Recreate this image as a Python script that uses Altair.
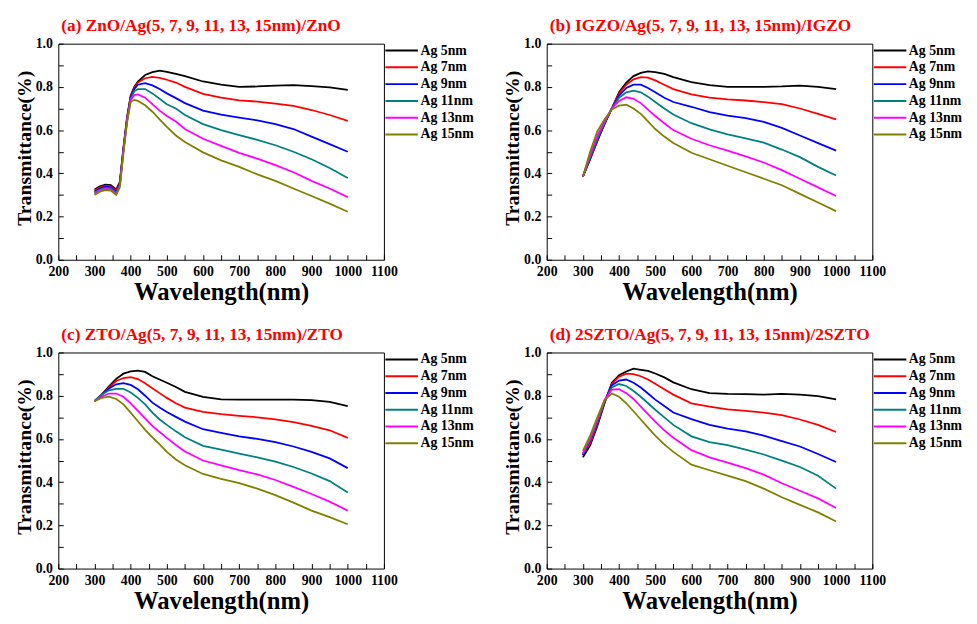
import altair as alt
import pandas as pd

FONT = "Liberation Serif"

SERIES = ["Ag 5nm", "Ag 7nm", "Ag 9nm", "Ag 11nm", "Ag 13nm", "Ag 15nm"]
COLORS = ["#000000", "#FF0000", "#0000FF", "#008080", "#FF00FF", "#808000"]

TITLES = [
    "(a) ZnO/Ag(5, 7, 9, 11, 13, 15nm)/ZnO",
    "(b) IGZO/Ag(5, 7, 9, 11, 13, 15nm)/IGZO",
    "(c) ZTO/Ag(5, 7, 9, 11, 13, 15nm)/ZTO",
    "(d) 2SZTO/Ag(5, 7, 9, 11, 13, 15nm)/2SZTO",
]

X_LABELS = [200, 300, 400, 500, 600, 700, 800, 900, 1000, 1100]
X_TICKS = [200, 250, 300, 350, 400, 450, 500, 550, 600, 650, 700, 750, 800, 850, 900, 950, 1000, 1050, 1100]
Y_LABELS = [0.0, 0.2, 0.4, 0.6, 0.8, 1.0]
Y_TICKS = [0.0, 0.1, 0.2, 0.3, 0.4, 0.5, 0.6, 0.7, 0.8, 0.9, 1.0]

# ---- (a) ZnO ----
WL_A = [300, 315, 330, 345, 360, 370, 380, 390, 400, 410, 420, 440, 460, 480, 500, 525, 550, 600, 650, 700, 750, 800, 850, 900, 950, 1000]
ZNO_5 = [0.325, 0.340, 0.348, 0.345, 0.325, 0.360, 0.520, 0.660, 0.760, 0.800, 0.825, 0.855, 0.868, 0.875, 0.870, 0.860, 0.850, 0.825, 0.810, 0.800, 0.802, 0.806, 0.808, 0.804, 0.798, 0.786]
ZNO_7 = [0.320, 0.335, 0.343, 0.340, 0.320, 0.355, 0.515, 0.655, 0.755, 0.795, 0.820, 0.840, 0.846, 0.842, 0.833, 0.820, 0.800, 0.768, 0.750, 0.738, 0.732, 0.723, 0.712, 0.693, 0.670, 0.643]
ZNO_9 = [0.315, 0.330, 0.338, 0.335, 0.315, 0.350, 0.510, 0.650, 0.750, 0.790, 0.810, 0.817, 0.807, 0.790, 0.770, 0.748, 0.725, 0.690, 0.672, 0.658, 0.645, 0.628, 0.605, 0.570, 0.535, 0.500]
ZNO_11 = [0.310, 0.325, 0.333, 0.330, 0.310, 0.345, 0.505, 0.645, 0.745, 0.780, 0.790, 0.790, 0.770, 0.745, 0.720, 0.700, 0.670, 0.628, 0.600, 0.577, 0.555, 0.530, 0.500, 0.465, 0.425, 0.378]
ZNO_13 = [0.305, 0.320, 0.328, 0.325, 0.305, 0.340, 0.500, 0.640, 0.740, 0.762, 0.765, 0.750, 0.720, 0.690, 0.665, 0.640, 0.605, 0.560, 0.527, 0.495, 0.468, 0.438, 0.405, 0.365, 0.330, 0.290]
ZNO_15 = [0.300, 0.315, 0.322, 0.320, 0.300, 0.335, 0.495, 0.635, 0.730, 0.740, 0.735, 0.715, 0.685, 0.650, 0.615, 0.575, 0.545, 0.497, 0.460, 0.430, 0.395, 0.365, 0.330, 0.295, 0.260, 0.222]

# ---- (b), (c), (d) share the wavelength grid ----
WL = [300, 320, 340, 360, 380, 400, 420, 440, 460, 480, 500, 525, 550, 600, 650, 700, 750, 800, 850, 900, 950, 1000]

IGZO_5 = [0.385, 0.465, 0.550, 0.630, 0.700, 0.775, 0.820, 0.850, 0.865, 0.872, 0.868, 0.860, 0.845, 0.822, 0.808, 0.800, 0.800, 0.800, 0.802, 0.806, 0.800, 0.790]
IGZO_7 = [0.385, 0.465, 0.550, 0.630, 0.700, 0.770, 0.810, 0.835, 0.845, 0.843, 0.830, 0.810, 0.790, 0.765, 0.750, 0.742, 0.737, 0.730, 0.720, 0.700, 0.675, 0.650]
IGZO_9 = [0.385, 0.470, 0.555, 0.630, 0.700, 0.760, 0.795, 0.810, 0.810, 0.795, 0.775, 0.750, 0.730, 0.708, 0.683, 0.667, 0.655, 0.638, 0.610, 0.575, 0.540, 0.505]
IGZO_11 = [0.385, 0.475, 0.560, 0.635, 0.700, 0.750, 0.775, 0.783, 0.775, 0.755, 0.730, 0.700, 0.672, 0.632, 0.603, 0.580, 0.562, 0.542, 0.510, 0.475, 0.430, 0.390]
IGZO_13 = [0.385, 0.485, 0.575, 0.640, 0.700, 0.735, 0.752, 0.745, 0.725, 0.695, 0.665, 0.632, 0.600, 0.560, 0.530, 0.505, 0.478, 0.450, 0.415, 0.375, 0.335, 0.295]
IGZO_15 = [0.385, 0.500, 0.595, 0.650, 0.695, 0.713, 0.718, 0.700, 0.675, 0.640, 0.605, 0.570, 0.540, 0.495, 0.465, 0.435, 0.405, 0.375, 0.345, 0.305, 0.265, 0.225]

ZTO_5 = [0.775, 0.805, 0.843, 0.878, 0.902, 0.913, 0.916, 0.910, 0.890, 0.875, 0.860, 0.840, 0.818, 0.795, 0.783, 0.782, 0.782, 0.782, 0.782, 0.780, 0.772, 0.752]
ZTO_7 = [0.775, 0.805, 0.838, 0.868, 0.882, 0.886, 0.877, 0.858, 0.835, 0.812, 0.790, 0.765, 0.745, 0.725, 0.715, 0.707, 0.700, 0.690, 0.678, 0.660, 0.640, 0.605]
ZTO_9 = [0.775, 0.805, 0.833, 0.853, 0.858, 0.850, 0.830, 0.800, 0.768, 0.745, 0.725, 0.702, 0.680, 0.645, 0.628, 0.612, 0.600, 0.585, 0.565, 0.540, 0.510, 0.465]
ZTO_11 = [0.775, 0.805, 0.825, 0.832, 0.832, 0.815, 0.790, 0.760, 0.722, 0.690, 0.665, 0.635, 0.608, 0.568, 0.550, 0.532, 0.515, 0.495, 0.470, 0.440, 0.405, 0.352]
ZTO_13 = [0.775, 0.795, 0.810, 0.810, 0.795, 0.765, 0.730, 0.695, 0.660, 0.632, 0.605, 0.572, 0.542, 0.500, 0.478, 0.456, 0.436, 0.410, 0.378, 0.345, 0.310, 0.268]
ZTO_15 = [0.775, 0.790, 0.796, 0.785, 0.760, 0.722, 0.682, 0.642, 0.607, 0.575, 0.540, 0.505, 0.478, 0.438, 0.415, 0.395, 0.370, 0.340, 0.305, 0.268, 0.238, 0.205]

SZTO_5 = [0.515, 0.570, 0.660, 0.765, 0.860, 0.895, 0.912, 0.925, 0.920, 0.915, 0.903, 0.885, 0.862, 0.830, 0.812, 0.808, 0.807, 0.805, 0.808, 0.805, 0.798, 0.783]
SZTO_7 = [0.525, 0.580, 0.668, 0.770, 0.855, 0.888, 0.902, 0.900, 0.890, 0.875, 0.855, 0.830, 0.805, 0.765, 0.750, 0.737, 0.730, 0.722, 0.710, 0.690, 0.665, 0.632]
SZTO_9 = [0.525, 0.590, 0.675, 0.775, 0.848, 0.870, 0.875, 0.860, 0.838, 0.810, 0.782, 0.752, 0.722, 0.692, 0.665, 0.648, 0.635, 0.615, 0.590, 0.565, 0.530, 0.493]
SZTO_11 = [0.530, 0.595, 0.680, 0.775, 0.838, 0.854, 0.845, 0.822, 0.795, 0.765, 0.735, 0.700, 0.665, 0.612, 0.585, 0.571, 0.550, 0.528, 0.500, 0.470, 0.430, 0.370]
SZTO_13 = [0.535, 0.600, 0.688, 0.780, 0.828, 0.830, 0.812, 0.785, 0.750, 0.715, 0.680, 0.640, 0.605, 0.548, 0.515, 0.490, 0.465, 0.435, 0.395, 0.360, 0.325, 0.280]
SZTO_15 = [0.545, 0.615, 0.700, 0.780, 0.810, 0.795, 0.765, 0.728, 0.690, 0.652, 0.615, 0.575, 0.540, 0.481, 0.455, 0.430, 0.405, 0.370, 0.330, 0.295, 0.260, 0.218]

PANELS = [
    (TITLES[0], WL_A, [ZNO_5, ZNO_7, ZNO_9, ZNO_11, ZNO_13, ZNO_15]),
    (TITLES[1], WL, [IGZO_5, IGZO_7, IGZO_9, IGZO_11, IGZO_13, IGZO_15]),
    (TITLES[2], WL, [ZTO_5, ZTO_7, ZTO_9, ZTO_11, ZTO_13, ZTO_15]),
    (TITLES[3], WL, [SZTO_5, SZTO_7, SZTO_9, SZTO_11, SZTO_13, SZTO_15]),
]

PLOT_W = 330
PLOT_H = 219


def panel(title, wl, curves):
    rows = []
    for name, vals in zip(SERIES, curves):
        for w, t in zip(wl, vals):
            rows.append({"wl": w, "T": t, "series": name})
    df = pd.DataFrame(rows)

    xs = alt.Scale(domain=[200, 1100], nice=False, zero=False)
    ys = alt.Scale(domain=[0, 1], nice=False)

    lines = alt.Chart(df).mark_line(strokeWidth=1.8).encode(
        x=alt.X("wl:Q", scale=xs, axis=alt.Axis(
            values=X_LABELS, format="d", title="Wavelength(nm)", ticks=False,
            domain=False, labelFlush=False, labelOverlap=False, labelPadding=5,
            labelFont=FONT, labelFontSize=14, labelFontWeight="bold", labelColor="black",
            titleFont=FONT, titleFontSize=25, titleFontWeight="bold", titleColor="black",
            titlePadding=1, orient="bottom", grid=False)),
        y=alt.Y("T:Q", scale=ys, axis=alt.Axis(
            values=Y_LABELS, format=".1f", title="Transmittance(%)", ticks=False,
            domain=False, labelFlush=False, labelOverlap=False, labelPadding=6,
            labelFont=FONT, labelFontSize=14, labelFontWeight="bold", labelColor="black",
            titleFont=FONT, titleFontSize=20, titleFontWeight="bold", titleColor="black",
            titlePadding=1, titleY=PLOT_H / 2 - 4, titleAlign="center", titleAngle=270,
            orient="left", grid=False)),
        color=alt.Color("series:N", sort=SERIES,
                        scale=alt.Scale(domain=SERIES, range=COLORS),
                        legend=alt.Legend(title=None, orient="right", offset=11, padding=0,
                                          symbolType="M-3,0H3", symbolSize=121,
                                          symbolStrokeWidth=2, labelFont=FONT,
                                          labelFontSize=14, labelFontWeight="bold",
                                          labelColor="black", labelOffset=12,
                                          rowPadding=3)),
    )
    ticks = alt.Chart(df).mark_line(opacity=0).encode(
        x=alt.X("wl:Q", scale=xs, axis=alt.Axis(
            values=X_TICKS, labels=False, domain=False, tickSize=5, offset=-5,
            title=None, orient="bottom", tickColor="black", grid=False)),
        y=alt.Y("T:Q", scale=ys, axis=alt.Axis(
            values=Y_TICKS, labels=False, domain=False, tickSize=5, offset=-5,
            title=None, orient="left", tickColor="black", grid=False)),
        detail="series:N",
    )
    return alt.layer(lines, ticks).resolve_axis(x="independent", y="independent").properties(
        width=PLOT_W, height=PLOT_H,
        title=alt.TitleParams(title, anchor="start", frame="group", font=FONT, fontSize=17.5,
                              fontWeight="bold", color="#FF0000", offset=2, dx=3),
    )


charts = [panel(t, w, c) for t, w, c in PANELS]

chart = alt.concat(*charts, columns=2, spacing={"row": 21, "column": 26}).resolve_legend(
    color="independent"
).resolve_scale(color="independent").configure_view(
    stroke="black", strokeWidth=1
)

chart.save("out.html", embed_options={"renderer": "svg", "actions": False})
